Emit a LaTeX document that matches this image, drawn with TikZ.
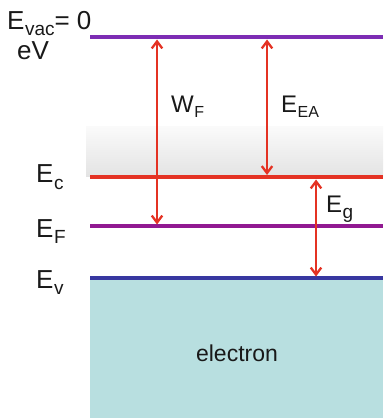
\documentclass[tikz,border=0pt]{standalone}
\usepackage{fontspec}
\setmainfont{Liberation Sans}
\usetikzlibrary{arrows.meta}
\definecolor{vacc}{RGB}{125,45,180}
\definecolor{redc}{RGB}{228,50,35}
\definecolor{fermic}{RGB}{145,25,145}
\definecolor{valc}{RGB}{55,55,160}
\definecolor{tealc}{RGB}{184,223,224}
\definecolor{txt}{RGB}{25,25,25}
\newcommand{\subA}[1]{\raisebox{-6pt}{\fontsize{19}{19}\selectfont\kern0.5pt #1}}
\newcommand{\subB}[1]{\raisebox{-5pt}{\fontsize{16}{16}\selectfont\kern0.5pt #1}}
\begin{document}
\begin{tikzpicture}[x=1pt,y=-1pt,
  lbl/.style={anchor=base west,inner sep=0pt,text=txt,font=\fontsize{26}{26}\selectfont},
  lblsmall/.style={anchor=base west,inner sep=0pt,text=txt,font=\fontsize{24}{24}\selectfont},
  level/.style={line width=#1},
  gaparrow/.style={draw=redc,line width=2.3pt,{Straight Barb[length=7pt,width=10.5pt,line width=2.3pt]}-{Straight Barb[length=7pt,width=10.5pt,line width=2.3pt]}}]
\useasboundingbox (0,0) rectangle (383,419);
% backgrounds
\shade[top color=gray!4,bottom color=gray!22] (86,127) rectangle (383,177);
\fill[tealc] (90,279) rectangle (383,418);
% level lines
\draw[vacc,level=4.5pt] (90,37) -- (383,37);
\draw[redc,level=4pt] (90,177) -- (383,177);
\draw[fermic,level=3.5pt] (90,226) -- (383,226);
\draw[valc,level=3.5pt] (90,278) -- (383,278);
% arrow end points
\coordinate (wtop) at (157,39.5);
\coordinate (wbot) at (157,224.5);
\coordinate (atop) at (267,39.5);
\coordinate (abot) at (267,175);
\coordinate (gtop) at (316,179.5);
\coordinate (gbot) at (316,276.5);
\draw[gaparrow] (wtop) -- (wbot);
\draw[gaparrow] (atop) -- (abot);
\draw[gaparrow] (gtop) -- (gbot);
% labels
\node[lbl] (evac) at (7,30) {E\subA{vac}= 0};
\node[lbl] (ev0) at (17,60) {eV};
\node[lbl] (ec) at (36,183) {E\subA{c}};
\node[lbl] (ef) at (36,237) {E\subA{F}};
\node[lbl] (evv) at (36,288) {E\subA{v}};
\node[lblsmall] (wf) at (171,113) {W\subB{F}};
\node[lblsmall] (eea) at (281,113) {E\subB{EA}};
\node[lblsmall] (eg) at (326,212) {E\subA{g}};
\node[inner sep=0pt,text=txt,font=\fontsize{23}{23}\selectfont] (el) at (237,353) {electron};
\end{tikzpicture}
\end{document}
